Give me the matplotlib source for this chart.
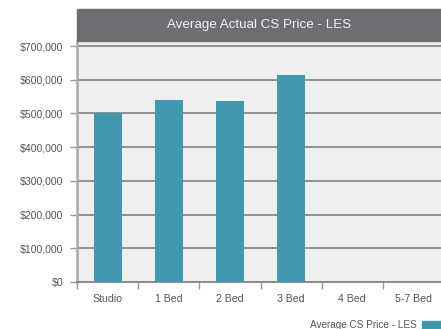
import matplotlib.pyplot as plt
from matplotlib.patches import Rectangle
from matplotlib.ticker import FuncFormatter

# average price per unit type
categories = ["Studio", "1 Bed", "2 Bed", "3 Bed", "4 Bed", "5-7 Bed"]
prices = [500000, 541000, 538000, 615000, 0, 0]
title = "Average Actual CS Price - LES"
series_name = "Average CS Price - LES"

bar_color = "#4199b0"
plt.rcParams['font.family'] = ['Liberation Sans', 'DejaVu Sans']

W, H = 441, 329
fig = plt.figure(figsize=(W / 100, H / 100), dpi=100)

# axes in pixel coordinates: left 77, right 444 (runs past edge), top 41, bottom 282
left, right, top, bottom = 77, 444, 41, 282
ax = fig.add_axes([left / W, 1 - bottom / H, (right - left) / W, (bottom - top) / H])
ax.set_facecolor("#efefef")

x = range(len(categories))
ax.bar(x, prices, width=0.46, color=bar_color, zorder=3)

ax.set_xlim(-0.5, len(categories) - 0.5)
ax.set_ylim(0, 700000 * (bottom - top) / (bottom - 46))
ax.set_yticks(range(0, 700001, 100000))
ax.yaxis.set_major_formatter(FuncFormatter(lambda v, p: f"${int(v):,}"))
ax.grid(axis="y", color="#808080", linewidth=1.2, zorder=1)

ax.set_xticks([i - 0.5 for i in range(len(categories) + 1)], minor=False)
ax.set_xticklabels([])
ax.set_xticks(list(x), minor=True)
ax.set_xticklabels(categories, minor=True)
ax.tick_params(axis="x", which="major", length=5, width=1, color="#999999", direction="out")
ax.tick_params(axis="x", which="minor", length=0, pad=9, labelsize=7.6, labelcolor="#555555")
ax.tick_params(axis="y", length=5, width=1, color="#999999", pad=5, labelsize=7.6, labelcolor="#555555")

for s in ["top", "right"]:
    ax.spines[s].set_visible(False)
ax.spines["left"].set_color("#aaaaaa")
ax.spines["left"].set_linewidth(1.8)
ax.spines["bottom"].set_color("#808080")
ax.spines["bottom"].set_linewidth(1.2)

# title banner
fig.patches.append(Rectangle((left / W, 1 - 41 / H), (W - left) / W, 32 / H,
                             transform=fig.transFigure, color="#6e6d72", zorder=0))
fig.text((left + W) / 2 / W, 1 - 25 / H, title, ha="center", va="center",
         color="#f2f2f2", fontsize=9.6)

# legend at the bottom right
fig.text(417 / W, 1 - 325 / H, series_name, ha="right", va="center",
         color="#555555", fontsize=7.2)
fig.patches.append(Rectangle((422 / W, 1 - 330 / H), 21 / W, 9 / H,
                             transform=fig.transFigure, color=bar_color))

fig.savefig("out.png", dpi=100)
